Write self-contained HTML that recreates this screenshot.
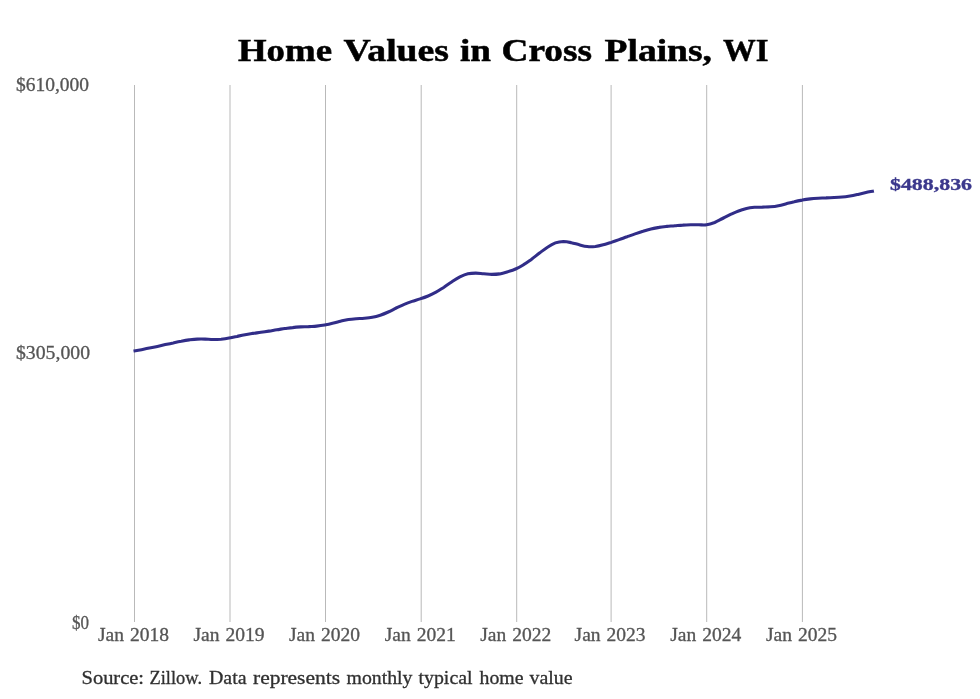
<!DOCTYPE html>
<html><head><meta charset="utf-8">
<style>
html,body{margin:0;padding:0;background:#fff;}
body{width:980px;height:699px;overflow:hidden;position:relative;}
svg{position:absolute;left:0;top:0;will-change:transform;}
text{font-family:"Liberation Serif",serif;}
</style></head><body>
<svg width="980" height="699" viewBox="0 0 980 699">
<g font-size="32" font-weight="bold" fill="#000" stroke="#000" stroke-width="0.5">
<text x="238.00" y="60.8" textLength="94.01" lengthAdjust="spacingAndGlyphs">Home</text>
<text x="343.50" y="60.8" textLength="105.51" lengthAdjust="spacingAndGlyphs">Values</text>
<text x="460.00" y="60.8" textLength="31.00" lengthAdjust="spacingAndGlyphs">in</text>
<text x="501.50" y="60.8" textLength="90.54" lengthAdjust="spacingAndGlyphs">Cross</text>
<text x="604.50" y="60.8" textLength="107.51" lengthAdjust="spacingAndGlyphs">Plains,</text>
<text x="723.00" y="60.8" textLength="45.53" lengthAdjust="spacingAndGlyphs">WI</text>
</g>
<g stroke="#b9b9b9" stroke-width="1">
<line x1="134.5" y1="85" x2="134.5" y2="622"/>
<line x1="230.0" y1="85" x2="230.0" y2="622"/>
<line x1="325.5" y1="85" x2="325.5" y2="622"/>
<line x1="421.2" y1="85" x2="421.2" y2="622"/>
<line x1="516.7" y1="85" x2="516.7" y2="622"/>
<line x1="611.1" y1="85" x2="611.1" y2="622"/>
<line x1="706.7" y1="85" x2="706.7" y2="622"/>
<line x1="802.4" y1="85" x2="802.4" y2="622"/>
</g>
<g font-size="18.7" fill="#555" stroke="#555" stroke-width="0.3">
<text x="16.00" y="90.6" textLength="73.01" lengthAdjust="spacingAndGlyphs">$610,000</text>
<text x="16.00" y="359.2" textLength="74.01" lengthAdjust="spacingAndGlyphs">$305,000</text>
<text x="72.00" y="629" textLength="17.03" lengthAdjust="spacingAndGlyphs">$0</text>
<text x="98.00" y="640.9" textLength="26.04" lengthAdjust="spacingAndGlyphs">Jan</text>
<text x="130.00" y="640.9" textLength="39.04" lengthAdjust="spacingAndGlyphs">2018</text>
<text x="193.50" y="640.9" textLength="26.04" lengthAdjust="spacingAndGlyphs">Jan</text>
<text x="225.50" y="640.9" textLength="39.04" lengthAdjust="spacingAndGlyphs">2019</text>
<text x="289.00" y="640.9" textLength="26.04" lengthAdjust="spacingAndGlyphs">Jan</text>
<text x="321.00" y="640.9" textLength="39.04" lengthAdjust="spacingAndGlyphs">2020</text>
<text x="384.70" y="640.9" textLength="26.04" lengthAdjust="spacingAndGlyphs">Jan</text>
<text x="416.70" y="640.9" textLength="39.04" lengthAdjust="spacingAndGlyphs">2021</text>
<text x="480.20" y="640.9" textLength="26.04" lengthAdjust="spacingAndGlyphs">Jan</text>
<text x="512.20" y="640.9" textLength="39.04" lengthAdjust="spacingAndGlyphs">2022</text>
<text x="574.60" y="640.9" textLength="26.04" lengthAdjust="spacingAndGlyphs">Jan</text>
<text x="606.60" y="640.9" textLength="39.04" lengthAdjust="spacingAndGlyphs">2023</text>
<text x="670.20" y="640.9" textLength="26.04" lengthAdjust="spacingAndGlyphs">Jan</text>
<text x="702.20" y="640.9" textLength="39.04" lengthAdjust="spacingAndGlyphs">2024</text>
<text x="765.90" y="640.9" textLength="26.04" lengthAdjust="spacingAndGlyphs">Jan</text>
<text x="797.90" y="640.9" textLength="39.04" lengthAdjust="spacingAndGlyphs">2025</text>
</g>
<path d="M133.5,351.0 C134.8,350.8 138.8,350.2 141.5,349.7 C144.1,349.2 146.8,348.7 149.4,348.1 C152.1,347.6 154.7,347.0 157.4,346.4 C160.0,345.8 162.7,345.2 165.3,344.6 C168.0,344.0 170.7,343.4 173.3,342.9 C176.0,342.3 178.6,341.7 181.3,341.3 C183.9,340.8 186.6,340.3 189.2,339.9 C191.9,339.6 194.5,339.3 197.2,339.1 C199.8,339.0 202.5,339.0 205.2,339.1 C207.8,339.2 210.5,339.5 213.1,339.5 C215.8,339.5 218.4,339.4 221.1,339.2 C223.7,338.9 226.4,338.5 229.0,338.0 C231.7,337.5 234.3,336.9 237.0,336.4 C239.7,335.8 242.3,335.2 245.0,334.7 C247.6,334.2 250.3,333.8 252.9,333.4 C255.6,333.0 258.2,332.7 260.9,332.3 C263.5,331.9 266.2,331.5 268.8,331.1 C271.5,330.7 274.1,330.2 276.8,329.8 C279.5,329.4 282.1,328.9 284.8,328.5 C287.4,328.2 290.1,327.8 292.7,327.6 C295.4,327.3 298.0,327.1 300.7,326.9 C303.3,326.8 306.0,326.7 308.6,326.6 C311.3,326.4 314.0,326.4 316.6,326.1 C319.3,325.9 321.9,325.6 324.6,325.1 C327.2,324.6 329.9,324.0 332.5,323.3 C335.2,322.7 337.8,321.9 340.5,321.2 C343.1,320.6 345.8,319.9 348.5,319.5 C351.1,319.1 353.8,318.9 356.4,318.7 C359.1,318.5 361.7,318.5 364.4,318.2 C367.0,318.0 369.7,317.8 372.3,317.3 C375.0,316.8 377.6,316.1 380.3,315.2 C383.0,314.3 385.6,313.2 388.3,312.0 C390.9,310.8 393.6,309.3 396.2,308.0 C398.9,306.8 401.5,305.5 404.2,304.4 C406.8,303.3 409.5,302.3 412.1,301.4 C414.8,300.5 417.5,299.8 420.1,298.9 C422.8,298.0 425.4,297.1 428.1,296.0 C430.7,294.9 433.4,293.6 436.0,292.2 C438.7,290.7 441.3,288.9 444.0,287.2 C446.6,285.4 449.3,283.4 452.0,281.7 C454.6,280.0 457.3,278.2 459.9,276.9 C462.6,275.6 465.2,274.4 467.9,273.8 C470.5,273.2 473.2,273.1 475.8,273.1 C478.5,273.1 481.1,273.6 483.8,273.8 C486.5,274.0 489.1,274.3 491.8,274.4 C494.4,274.4 497.1,274.3 499.7,273.9 C502.4,273.4 505.0,272.6 507.7,271.8 C510.3,271.0 513.0,270.2 515.6,269.0 C518.3,267.8 520.9,266.4 523.6,264.7 C526.3,263.1 528.9,261.1 531.6,259.2 C534.2,257.2 536.9,255.0 539.5,253.0 C542.2,251.0 544.8,248.9 547.5,247.2 C550.1,245.5 552.8,243.9 555.4,242.9 C558.1,242.0 560.8,241.6 563.4,241.5 C566.1,241.5 568.7,242.1 571.4,242.7 C574.0,243.2 576.7,244.2 579.3,244.8 C582.0,245.5 584.6,246.3 587.3,246.5 C589.9,246.8 592.6,246.7 595.3,246.5 C597.9,246.2 600.6,245.5 603.2,244.8 C605.9,244.2 608.5,243.2 611.2,242.4 C613.8,241.5 616.5,240.5 619.1,239.6 C621.8,238.7 624.4,237.7 627.1,236.8 C629.8,235.8 632.4,234.8 635.1,233.9 C637.7,233.0 640.4,232.1 643.0,231.3 C645.7,230.4 648.3,229.6 651.0,229.0 C653.6,228.4 656.3,227.9 658.9,227.4 C661.6,227.0 664.3,226.7 666.9,226.4 C669.6,226.2 672.2,225.9 674.9,225.7 C677.5,225.5 680.2,225.2 682.8,225.1 C685.5,224.9 688.1,224.8 690.8,224.7 C693.4,224.7 696.1,224.8 698.8,224.8 C701.4,224.8 704.1,225.2 706.7,224.8 C709.4,224.4 712.0,223.5 714.7,222.5 C717.3,221.4 720.0,219.8 722.6,218.5 C725.3,217.1 727.9,215.7 730.6,214.4 C733.3,213.2 735.9,212.0 738.6,211.0 C741.2,210.0 743.9,209.2 746.5,208.5 C749.2,207.9 751.8,207.6 754.5,207.3 C757.1,207.1 759.8,207.1 762.4,207.1 C765.1,207.0 767.7,207.0 770.4,206.8 C773.1,206.6 775.7,206.3 778.4,205.7 C781.0,205.2 783.7,204.4 786.3,203.7 C789.0,203.0 791.6,202.3 794.3,201.7 C796.9,201.0 799.6,200.5 802.2,200.1 C804.9,199.6 807.6,199.2 810.2,198.9 C812.9,198.6 815.5,198.4 818.2,198.2 C820.8,198.1 823.5,198.0 826.1,197.9 C828.8,197.7 831.4,197.7 834.1,197.5 C836.7,197.4 839.4,197.3 842.1,197.0 C844.7,196.8 847.4,196.4 850.0,196.0 C852.7,195.6 855.3,195.0 858.0,194.4 C860.6,193.8 863.3,193.2 865.9,192.6 C868.6,192.0 872.6,191.2 873.9,190.9" fill="none" stroke="#312d88" stroke-width="3.1" stroke-linejoin="round" stroke-linecap="butt"/>
<g font-size="17.6" font-weight="bold" fill="#3b388c" stroke="#3b388c" stroke-width="0.35">
<text x="890.00" y="190" textLength="82.01" lengthAdjust="spacingAndGlyphs">$488,836</text>
</g>
<g font-size="19" fill="#303030" stroke="#303030" stroke-width="0.3">
<text x="81.50" y="684" textLength="62.56" lengthAdjust="spacingAndGlyphs">Source:</text>
<text x="149.50" y="684" textLength="52.52" lengthAdjust="spacingAndGlyphs">Zillow.</text>
<text x="209.00" y="684" textLength="37.51" lengthAdjust="spacingAndGlyphs">Data</text>
<text x="253.00" y="684" textLength="87.00" lengthAdjust="spacingAndGlyphs">represents</text>
<text x="346.50" y="684" textLength="66.02" lengthAdjust="spacingAndGlyphs">monthly</text>
<text x="418.50" y="684" textLength="54.03" lengthAdjust="spacingAndGlyphs">typical</text>
<text x="479.50" y="684" textLength="44.01" lengthAdjust="spacingAndGlyphs">home</text>
<text x="529.50" y="684" textLength="43.01" lengthAdjust="spacingAndGlyphs">value</text>
</g>
</svg>
</body></html>
